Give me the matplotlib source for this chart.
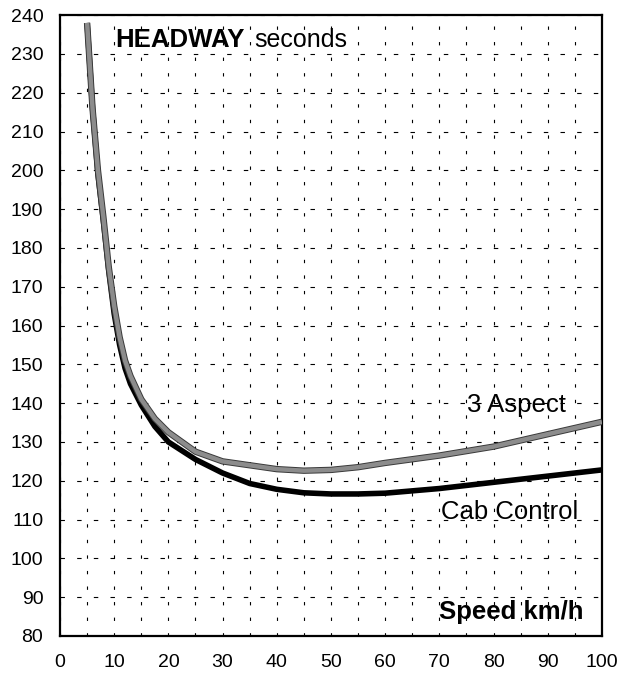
import matplotlib.pyplot as plt
import matplotlib.patheffects as pe
import numpy as np

plt.rcParams['font.family'] = ['Liberation Sans', 'DejaVu Sans']

# speed in km/h, headway in seconds
speed = [5, 6, 7, 8, 9, 10, 11, 12, 13, 15, 17.5, 20, 25, 30, 35, 40, 45, 50, 55,
         60, 70, 80, 90, 100]
aspect3 = [238, 216, 200, 188, 175, 165, 157, 151, 147, 141, 136, 132.5, 127.5, 125,
           124, 123, 122.6, 122.8, 123.5, 124.6, 126.5, 128.8, 132, 135.2]
cab_control = [238, 216, 199, 187, 174, 163, 155, 149, 145, 139.5, 134, 130, 125.5,
               122, 119.3, 117.8, 116.9, 116.6, 116.6, 116.8, 118, 119.6, 121.2, 122.8]

x_ticks = np.arange(0, 101, 10)
y_ticks = np.arange(80, 241, 10)

fig = plt.figure(figsize=(6.2, 6.77), dpi=100)
ax = fig.add_axes([0.0968, 0.0606, 0.874, 0.917])

ax.set_xlim(0, 100)
ax.set_ylim(80, 240)
ax.set_xticks(x_ticks)
ax.set_xticks(np.arange(5, 100, 5), minor=True)
ax.set_yticks(y_ticks)

# loose dashed grid
ax.grid(True, which='both', axis='x', color='black', lw=0.8, dashes=(3, 11))
ax.grid(True, which='major', axis='y', color='black', lw=0.8, dashes=(4, 11))
ax.tick_params(which='both', length=0)
ax.tick_params(axis='y', pad=12, labelsize=14)
ax.tick_params(axis='x', pad=13, labelsize=14)
for s in ax.spines.values():
    s.set_linewidth(1.6)

ax.plot(speed, cab_control, color='black', lw=4, solid_capstyle='butt', zorder=3)
ax.plot(speed, aspect3, color='#8c8c8c', lw=3.2, solid_capstyle='butt', zorder=4,
        path_effects=[pe.Stroke(linewidth=4.6, foreground='#3a3a3a'), pe.Normal()])

ax.text(10.2, 233.6, 'HEADWAY', fontsize=18.5, fontweight='bold', va='center', ha='left')
ax.text(35.8, 233.6, 'seconds', fontsize=18, va='center', ha='left')
ax.text(84.2, 139.5, '3 Aspect', fontsize=18.5, va='center', ha='center')
ax.text(82.9, 112, 'Cab Control', fontsize=18.5, va='center', ha='center')
ax.text(83.3, 86.2, 'Speed km/h', fontsize=18.5, fontweight='bold', va='center', ha='center')

fig.savefig('out.png', dpi=100)
